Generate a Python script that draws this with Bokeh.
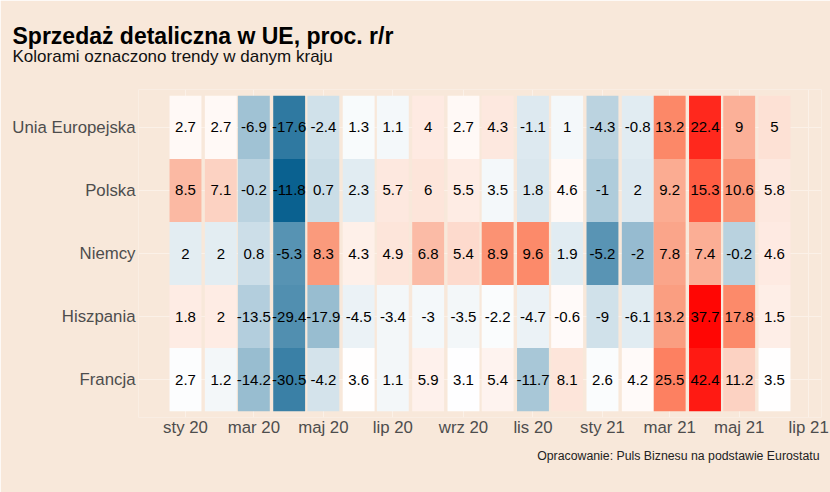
import numpy as np
import pandas as pd
from bokeh.plotting import figure
from bokeh.models import ColumnDataSource, FixedTicker, LinearColorMapper, Title
from bokeh.embed import file_html
from bokeh.resources import INLINE
from bokeh.core.properties import value

# ---------------- data ----------------
months = ["2020-01", "2020-02", "2020-03", "2020-04", "2020-05", "2020-06",
          "2020-07", "2020-08", "2020-09", "2020-10", "2020-11", "2020-12",
          "2021-01", "2021-02", "2021-03", "2021-04", "2021-05", "2021-06"]
countries = ["Unia Europejska", "Polska", "Niemcy", "Hiszpania", "Francja"]
ue = [2.7, 2.7, -6.9, -17.6, -2.4, 1.3, 1.1, 4, 2.7, 4.3, -1.1, 1, -4.3, -0.8, 13.2, 22.4, 9, 5]
pl = [8.5, 7.1, -0.2, -11.8, 0.7, 2.3, 5.7, 6, 5.5, 3.5, 1.8, 4.6, -1, 2, 9.2, 15.3, 10.6, 5.8]
de = [2, 2, 0.8, -5.3, 8.3, 4.3, 4.9, 6.8, 5.4, 8.9, 9.6, 1.9, -5.2, -2, 7.8, 7.4, -0.2, 4.6]
es = [1.8, 2, -13.5, -29.4, -17.9, -4.5, -3.4, -3, -3.5, -2.2, -4.7, -0.6, -9, -6.1, 13.2, 37.7, 17.8, 1.5]
fr = [2.7, 1.2, -14.2, -30.5, -4.2, 3.6, 1.1, 5.9, 3.1, 5.4, -11.7, 8.1, 2.6, 4.2, 25.5, 42.4, 11.2, 3.5]
series = [ue, pl, de, es, fr]
tick_months = ["2020-01", "2020-03", "2020-05", "2020-07", "2020-09", "2020-11",
               "2021-01", "2021-03", "2021-05", "2021-07"]
tick_labels = ["sty 20", "mar 20", "maj 20", "lip 20", "wrz 20", "lis 20",
               "sty 21", "mar 21", "maj 21", "lip 21"]

title_text = "Sprzedaż detaliczna w UE, proc. r/r"
subtitle_text = "Kolorami oznaczono trendy w danym kraju"
caption_text = "Opracowanie: Puls Biznesu na podstawie Eurostatu"

# ---------------- style ----------------
BG = "#F8E8DA"
GRID = "#FBF1E8"
FONT = "Liberation Sans"
# colour ramp anchors (position 0..1 on the diverging scale, colour)
ramp = [(0.0, "#0A6190"), (0.5, "#FFFFFF"), (0.565, "#FDE1D5"), (0.69, "#FA9A7C"),
        (0.74, "#FC8A6A"), (0.845, "#FF5E44"), (0.943, "#FF2A1E"), (1.0, "#FF0000")]


def _hex2rgb(h):
    h = h.lstrip("#")
    return np.array([int(h[i:i + 2], 16) for i in (0, 2, 4)], dtype=float)


palette = []
pos = [a for a, _ in ramp]
cols = [_hex2rgb(c) for _, c in ramp]
for t in np.linspace(0, 1, 256):
    k = min(max(np.searchsorted(pos, t, side="right") - 1, 0), len(pos) - 2)
    s = (t - pos[k]) / (pos[k + 1] - pos[k])
    rgb = np.round(cols[k] + (cols[k + 1] - cols[k]) * s).astype(int)
    palette.append("#%02X%02X%02X" % tuple(rgb))

# ---------------- table ----------------
origin = pd.Timestamp(months[0] + "-01")
xday = [(pd.Timestamp(m + "-01") - origin).days for m in months]
tick_days = [(pd.Timestamp(m + "-01") - origin).days for m in tick_months]
width_days = int(np.min(np.diff(xday)))

xs, ys, vals, zs, labels = [], [], [], [], []
n = len(countries)
for i, (c, v) in enumerate(zip(countries, series)):
    arr = np.array(v, dtype=float)
    z = (arr - arr.mean()) / arr.std(ddof=1)
    for d, val, zz in zip(xday, arr, z):
        xs.append(d)
        ys.append(n - i)
        vals.append(val)
        zs.append(zz)
        labels.append(f"{val:g}")
src = ColumnDataSource(dict(x=xs, y=ys, v=vals, z=zs, label=labels))
zmax = float(np.max(np.abs(zs)))
mapper = LinearColorMapper(palette=palette, low=-zmax, high=zmax)

xmin = min(xday) - width_days / 2
xmax = max(xday) + width_days / 2
span = xmax - xmin

p = figure(width=830, height=492, output_backend="svg", toolbar_location=None,
           x_range=(xmin - 0.05 * span, xmax + 0.05 * span), y_range=(0.4, n + 0.6),
           min_border_left=138, min_border_right=9, min_border_top=89, min_border_bottom=75)
p.title_location = None
p.background_fill_color = BG
p.border_fill_color = BG
p.outline_line_color = None

p.rect(x="x", y="y", width=width_days, height=1, source=src,
       fill_color={"field": "z", "transform": mapper}, line_color=None)
p.text(x="x", y="y", text="label", source=src, text_align="center", text_baseline="middle",
       text_font=value(FONT), text_font_size="15px", text_color="#000000")

p.xaxis.ticker = FixedTicker(ticks=tick_days)
p.xaxis.major_label_overrides = {d: l for d, l in zip(tick_days, tick_labels)}
p.yaxis.ticker = FixedTicker(ticks=list(range(1, n + 1)))
p.yaxis.major_label_overrides = {n - i: c for i, c in enumerate(countries)}
for ax in (p.xaxis, p.yaxis):
    ax.axis_line_color = None
    ax.major_tick_line_color = None
    ax.minor_tick_line_color = None
    ax.major_tick_out = 0
    ax.major_tick_in = 0
    ax.minor_tick_out = 0
    ax.minor_tick_in = 0
    ax.major_label_text_font = FONT
    ax.major_label_text_font_size = "16.8px"
    ax.major_label_text_color = "#4D4D4D"
p.xaxis.major_label_standoff = 0
p.yaxis.major_label_standoff = 3
p.xgrid.grid_line_color = GRID
p.ygrid.grid_line_color = GRID
p.xgrid.grid_line_width = 1
p.ygrid.grid_line_width = 1

p.add_layout(Title(text=caption_text, align="right", offset=2, text_font=FONT, text_font_size="12.3px",
                   text_font_style="normal", text_color="#222222", standoff=14), "below")
# spacer between subtitle and the plot frame
p.add_layout(Title(text=" ", align="left", text_font=FONT, text_font_size="10px",
                   text_color=BG, standoff=14), "above")
p.add_layout(Title(text=subtitle_text, align="left", offset=-126, text_font=FONT,
                   text_font_size="17px", text_font_style="normal", text_color="#111111",
                   standoff=-7), "above")
p.add_layout(Title(text=title_text, align="left", offset=-126, text_font=FONT,
                   text_font_size="23px", text_font_style="bold", text_color="#000000",
                   standoff=0), "above")

html = file_html(p, INLINE)
html = html.replace("<body>", '<body style="background-color: %s;">' % BG, 1)
open("out.html", "w").write(html)
